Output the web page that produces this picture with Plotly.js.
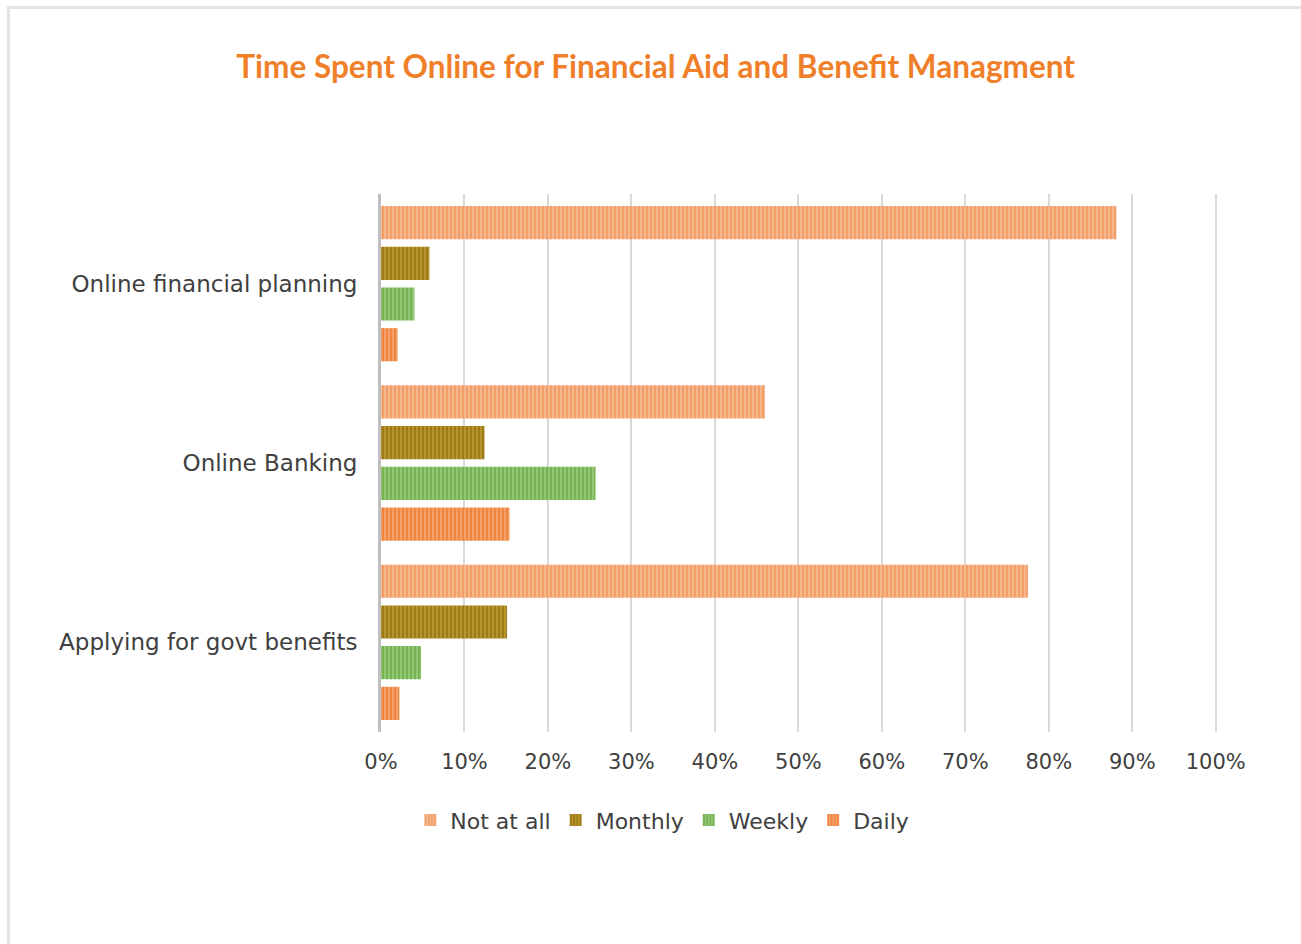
<!DOCTYPE html>
<html>
<head>
<meta charset="utf-8">
<script src="https://cdn.plot.ly/plotly-3.0.1.min.js"></script>
<style>
  html, body { margin: 0; padding: 0; background: #fff; }
  #frame { position: absolute; left: 7px; top: 6px; width: 1400px; height: 1100px; border: 3px solid #e3e3e3; box-sizing: border-box; pointer-events: none; z-index: 5; }
  #chart { width: 1301px; height: 944px; }
</style>
</head>
<body>
<div id="frame"></div>
<div id="chart"></div>
<script>
const categories = ["Online financial planning", "Online Banking", "Applying for govt benefits"];
const seriesNames = ["Not at all", "Monthly", "Weekly", "Daily"];
const notAtAll = [88.1, 46.0, 77.5];
const monthly  = [5.8, 12.4, 15.1];
const weekly   = [4.0, 25.7, 4.8];
const daily    = [2.0, 15.4, 2.2];
const xTickVals = [0, 10, 20, 30, 40, 50, 60, 70, 80, 90, 100];

const seriesValues = [notAtAll, monthly, weekly, daily];
const bgColors = ["#F7B78C", "#B8952C", "#92C873", "#F4A068"];
const fgColors = ["#EF9558", "#93700F", "#6DAA45", "#EC7B30"];

const font = "'DejaVu Sans', 'Noto Sans', sans-serif";

const traces = seriesNames.map((name, i) => ({
  type: "bar",
  orientation: "h",
  name: name,
  y: categories,
  x: seriesValues[i],
  marker: {
    color: bgColors[i],
    line: { width: 0 },
    pattern: { shape: "|", fgcolor: fgColors[i], bgcolor: bgColors[i], size: 4, solidity: 0.35, fillmode: "replace" }
  },
  hoverinfo: "x+name"
}));

const layout = {
  width: 1301,
  height: 944,
  paper_bgcolor: "#ffffff",
  plot_bgcolor: "#ffffff",
  margin: { l: 381, r: 84, t: 194, b: 212 },
  barmode: "group",
  bargap: 0.092,
  bargroupgap: 0.185,
  title: {
    text: "<b>Time Spent Online for Financial Aid and Benefit Managment</b>",
    font: { family: "Lato, 'Open Sans', sans-serif", size: 31.5, color: "#F07F2A" },
    x: 0.504, xref: "container", xanchor: "center",
    y: 1 - 67 / 944, yref: "container", yanchor: "middle"
  },
  xaxis: {
    range: [0, 100.15],
    tickvals: xTickVals,
    ticktext: xTickVals.map(v => v + "%"),
    showgrid: true,
    gridcolor: "#d9d9d9",
    gridwidth: 2,
    zeroline: false,
    showline: false,
    ticks: "",
    ticklabelstandoff: 15,
    tickfont: { family: font, size: 21, color: "#404040" },
    fixedrange: true
  },
  yaxis: {
    autorange: "reversed",
    showgrid: false,
    zeroline: false,
    showline: true,
    linecolor: "#bfbfbf",
    linewidth: 3,
    ticks: "",
    ticklabelstandoff: 16,
    tickfont: { family: font, size: 23, color: "#404040" },
    fixedrange: true
  },
  legend: {
    orientation: "h",
    x: (662 - 381) / 835, xanchor: "center",
    y: -(820 - 732) / 537, yanchor: "middle",
    font: { family: font, size: 22, color: "#404040" },
    itemwidth: 30,
    tracegroupgap: 0
  },
  showlegend: true
};

Plotly.newPlot("chart", traces, layout, { displayModeBar: false, staticPlot: false });
</script>
</body>
</html>
